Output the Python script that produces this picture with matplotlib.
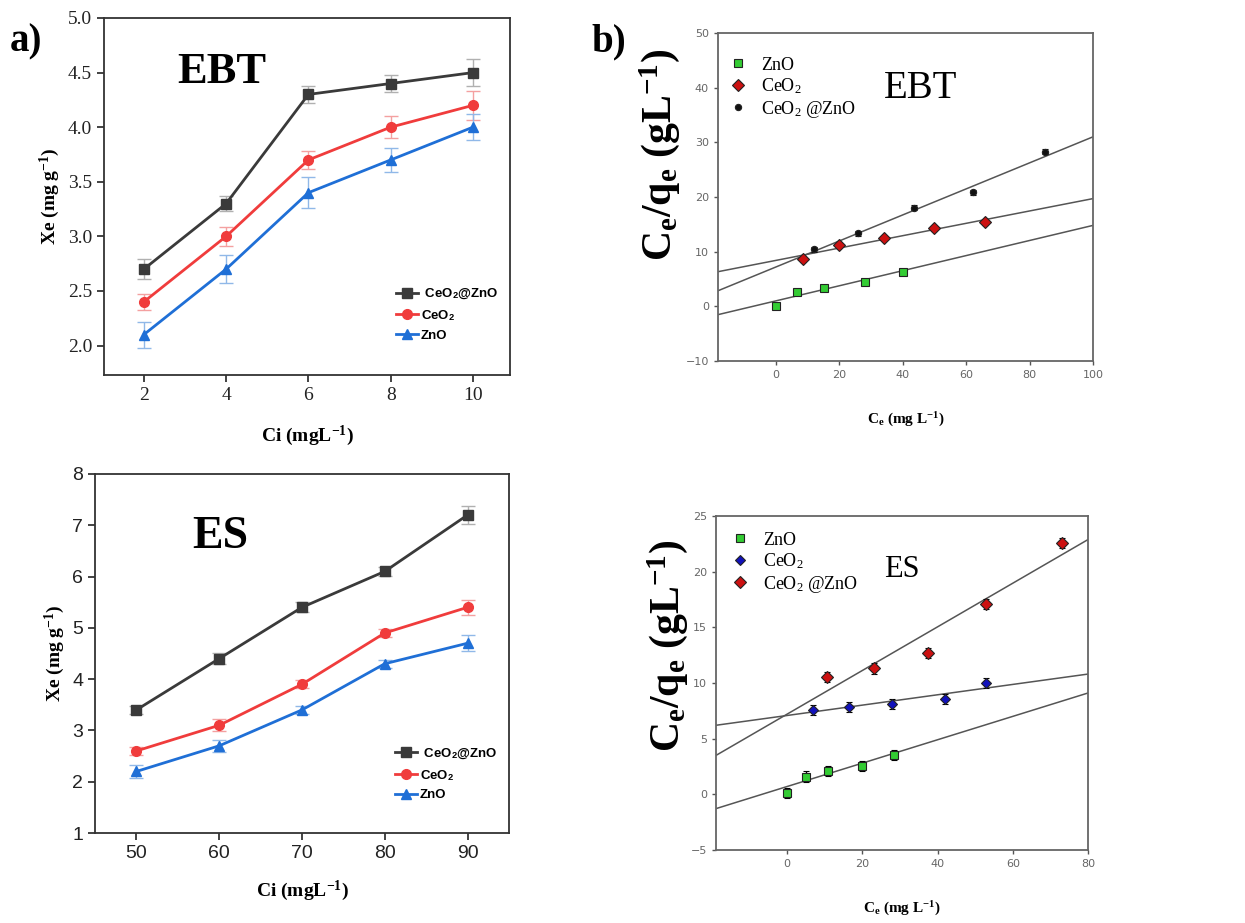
import numpy as np
import matplotlib
matplotlib.use("Agg")
from matplotlib import pyplot as plt

# ---- datos panel a) EBT ----
ci_ebt = [2, 4, 6, 8, 10]
xe_ebt_comp = [2.7, 3.3, 4.3, 4.4, 4.5]
xe_ebt_ceo2 = [2.4, 3.0, 3.7, 4.0, 4.2]
xe_ebt_zno = [2.1, 2.7, 3.4, 3.7, 4.0]
err_ebt_comp = [0.09, 0.07, 0.08, 0.08, 0.12]
err_ebt_ceo2 = [0.07, 0.09, 0.08, 0.10, 0.13]
err_ebt_zno = [0.12, 0.13, 0.14, 0.11, 0.12]

# ---- datos panel a) ES ----
ci_es = [50, 60, 70, 80, 90]
xe_es_comp = [3.4, 4.4, 5.4, 6.1, 7.2]
xe_es_ceo2 = [2.6, 3.1, 3.9, 4.9, 5.4]
xe_es_zno = [2.2, 2.7, 3.4, 4.3, 4.7]
err_es_comp = [0.08, 0.10, 0.10, 0.08, 0.17]
err_es_ceo2 = [0.08, 0.12, 0.08, 0.08, 0.14]
err_es_zno = [0.12, 0.12, 0.08, 0.08, 0.16]

# ---- datos panel b) EBT (Langmuir) ----
ce_ebt_zno = [0, 6.5, 15, 28, 40]
cq_ebt_zno = [0.1, 2.7, 3.4, 4.5, 6.3]
ce_ebt_ceo2 = [8.5, 20, 34, 50, 66]
cq_ebt_ceo2 = [8.6, 11.3, 12.5, 14.3, 15.4]
ce_ebt_comp = [12, 26, 43.5, 62, 85]
cq_ebt_comp = [10.4, 13.4, 18.0, 20.9, 28.3]
fit_ebt_slope = [0.138, 0.113, 0.238]
fit_ebt_icpt = [1.0, 8.4, 7.2]

# ---- datos panel b) ES ----
ce_es_zno = [0, 5, 11, 20, 28.5]
cq_es_zno = [0.1, 1.6, 2.1, 2.5, 3.5]
ce_es_ceo2 = [7, 16.5, 28, 42, 53]
cq_es_ceo2 = [7.6, 7.8, 8.1, 8.6, 10.0]
ce_es_comp = [10.5, 23, 37.5, 53, 73]
cq_es_comp = [10.5, 11.3, 12.7, 17.1, 22.6]
fit_es_slope = [0.105, 0.0465, 0.196]
fit_es_icpt = [0.7, 7.08, 7.2]

serif = ['Liberation Serif', 'DejaVu Serif']
sans = ['Liberation Sans', 'DejaVu Sans']

plt.rcParams['mathtext.fontset'] = 'custom'
plt.rcParams['mathtext.rm'] = 'Liberation Serif'
plt.rcParams['mathtext.it'] = 'Liberation Serif:italic'
plt.rcParams['mathtext.bf'] = 'Liberation Serif:bold'
plt.rcParams['mathtext.sf'] = 'Liberation Sans:bold'

fig = plt.figure(figsize=(12.45, 9.23), dpi=100)

c_blk = '#3a3a3a'
c_red = '#f03c3c'
c_blu = '#1f6fd6'


def panel_a(ax, x, comp, ceo2, zno, ecomp, eceo2, ezno, tickfam, leg_y):
    h1 = ax.errorbar(x, comp, yerr=ecomp, color=c_blk, marker='s', ms=7, lw=2,
                     ecolor='#b0b0b0', elinewidth=1, capsize=5)
    h2 = ax.errorbar(x, ceo2, yerr=eceo2, color=c_red, marker='o', ms=7, lw=2,
                     ecolor='#f4a0a0', elinewidth=1, capsize=5)
    h3 = ax.errorbar(x, zno, yerr=ezno, color=c_blu, marker='^', ms=7, lw=2,
                     ecolor='#90b8e8', elinewidth=1, capsize=5)
    ax.legend([h1[0], h2[0], h3[0]],
              [' CeO$_\\mathsf{2}$@ZnO', 'CeO$_\\mathsf{2}$', 'ZnO'],
              loc='lower right', frameon=False, handlelength=1.7,
              handletextpad=0.2, labelspacing=0.5,
              prop={'family': sans, 'weight': 'bold', 'size': 9.5},
              bbox_to_anchor=(1.0, leg_y))
    for sp in ax.spines.values():
        sp.set_linewidth(1.3)
        sp.set_color('#333333')
    ax.tick_params(direction='out', length=5, width=1.2, labelsize=14,
                   colors='#222222')
    for lab in ax.get_xticklabels() + ax.get_yticklabels():
        lab.set_family(tickfam)
    ax.set_ylabel('Xe (mg g$^{\\mathbf{-1}}$)', family=serif, fontweight='bold',
                  fontsize=14, labelpad=4)
    ax.set_xlabel('Ci (mgL$^{\\mathbf{-1}}$)', family=serif, fontweight='bold',
                  fontsize=14, labelpad=14)


# a) EBT
ax1 = fig.add_axes([0.0835, 0.5937, 0.3261, 0.3868])
ax1.set_xlim(1.03, 10.9)
ax1.set_ylim(1.73, 5.0)
ax1.set_xticks(ci_ebt)
ax1.set_yticks(np.arange(2.0, 5.01, 0.5))
ax1.yaxis.set_major_formatter(matplotlib.ticker.FormatStrFormatter('%.1f'))
panel_a(ax1, ci_ebt, xe_ebt_comp, xe_ebt_ceo2, xe_ebt_zno,
        err_ebt_comp, err_ebt_ceo2, err_ebt_zno, serif, 0.06)
ax1.text(0.18, 0.85, 'EBT', transform=ax1.transAxes, family=serif,
         fontweight='bold', fontsize=32, va='center', ha='left')

# a) ES
ax2 = fig.add_axes([0.0763, 0.0975, 0.3325, 0.389])
ax2.set_xlim(45, 95)
ax2.set_ylim(1, 8)
ax2.set_xticks(ci_es)
ax2.set_yticks(range(1, 9))
panel_a(ax2, ci_es, xe_es_comp, xe_es_ceo2, xe_es_zno,
        err_es_comp, err_es_ceo2, err_es_zno, sans, 0.055)
ax2.set_xlabel('Ci (mgL$^{\\mathbf{-1}}$)', family=serif, fontweight='bold',
               fontsize=14, labelpad=12)
ax2.text(0.235, 0.825, 'ES', transform=ax2.transAxes, family=serif,
         fontweight='bold', fontsize=33, va='center', ha='left')

fig.text(0.008, 0.955, 'a)', family=serif, fontweight='bold', fontsize=28,
         va='center', ha='left')
fig.text(0.475, 0.955, 'b)', family=serif, fontweight='bold', fontsize=28,
         va='center', ha='left')


def panel_b(ax, series, slopes, icpts, title, tx, ty, tsize, ylab_xy, leg_xy):
    handles = []
    for (x, y, col, mk, ms) in series:
        h = ax.errorbar(x, y, yerr=0.45, fmt=mk, color=col, mec='#222222',
                        mew=0.8, ms=ms, ecolor='black', elinewidth=1,
                        capsize=2.5, zorder=3)
        handles.append(h[0])
    for m, b in zip(slopes, icpts):
        ax.axline((0, b), slope=m, color='#555555', lw=1.1, zorder=2)
    for sp in ax.spines.values():
        sp.set_linewidth(1.3)
        sp.set_color('#666666')
    ax.tick_params(direction='out', length=3, width=1, labelsize=8,
                   colors='#555555', labelcolor='#666666')
    ax.set_ylabel('C$_\\mathbf{e}$/q$_\\mathbf{e}$ (gL$^{\\mathbf{-1}}$)',
                  family=serif, fontweight='bold', fontsize=30)
    ax.yaxis.set_label_coords(*ylab_xy)
    ax.set_xlabel('C$_\\mathbf{e}$ (mg L$^{\\mathbf{-1}}$)', family=serif,
                  fontweight='bold', fontsize=11, labelpad=22)
    ax.text(tx, ty, title, transform=ax.transAxes, family=serif,
            fontsize=tsize, va='center', ha='center')
    ax.legend(handles, ['ZnO', 'CeO$_2$', 'CeO$_2$ @ZnO'],
              loc='upper left', bbox_to_anchor=leg_xy, frameon=False,
              handlelength=1, handletextpad=0.8, labelspacing=0.15,
              borderaxespad=0, prop={'family': serif, 'size': 13})


# b) EBT
ax3 = fig.add_axes([0.5767, 0.6089, 0.3012, 0.3554])
ax3.set_xlim(-18.3, 100)
ax3.set_ylim(-10, 50)
ax3.set_xticks(range(0, 101, 20))
ax3.set_yticks(range(-10, 51, 10))
panel_b(ax3, [
    (ce_ebt_zno, cq_ebt_zno, '#33cc33', 's', 6),
    (ce_ebt_ceo2, cq_ebt_ceo2, '#cc1111', 'D', 6),
    (ce_ebt_comp, cq_ebt_comp, '#111111', 'o', 4.5),
], fit_ebt_slope, fit_ebt_icpt, 'EBT', 0.54, 0.83, 28, (-0.096, 0.63),
    (0.01, 0.95))

# b) ES
ax4 = fig.add_axes([0.5751, 0.0791, 0.2988, 0.3619])
ax4.set_xlim(-18.9, 80)
ax4.set_ylim(-5, 25)
ax4.set_xticks(range(0, 81, 20))
ax4.set_yticks(range(-5, 26, 5))
panel_b(ax4, [
    (ce_es_zno, cq_es_zno, '#33cc33', 's', 6),
    (ce_es_ceo2, cq_es_ceo2, '#1111bb', 'D', 5.5),
    (ce_es_comp, cq_es_comp, '#cc1111', 'D', 6),
], fit_es_slope, fit_es_icpt, 'ES', 0.5, 0.84, 22, (-0.07, 0.61),
    (0.02, 0.975))

fig.savefig('out.png', dpi=100)
